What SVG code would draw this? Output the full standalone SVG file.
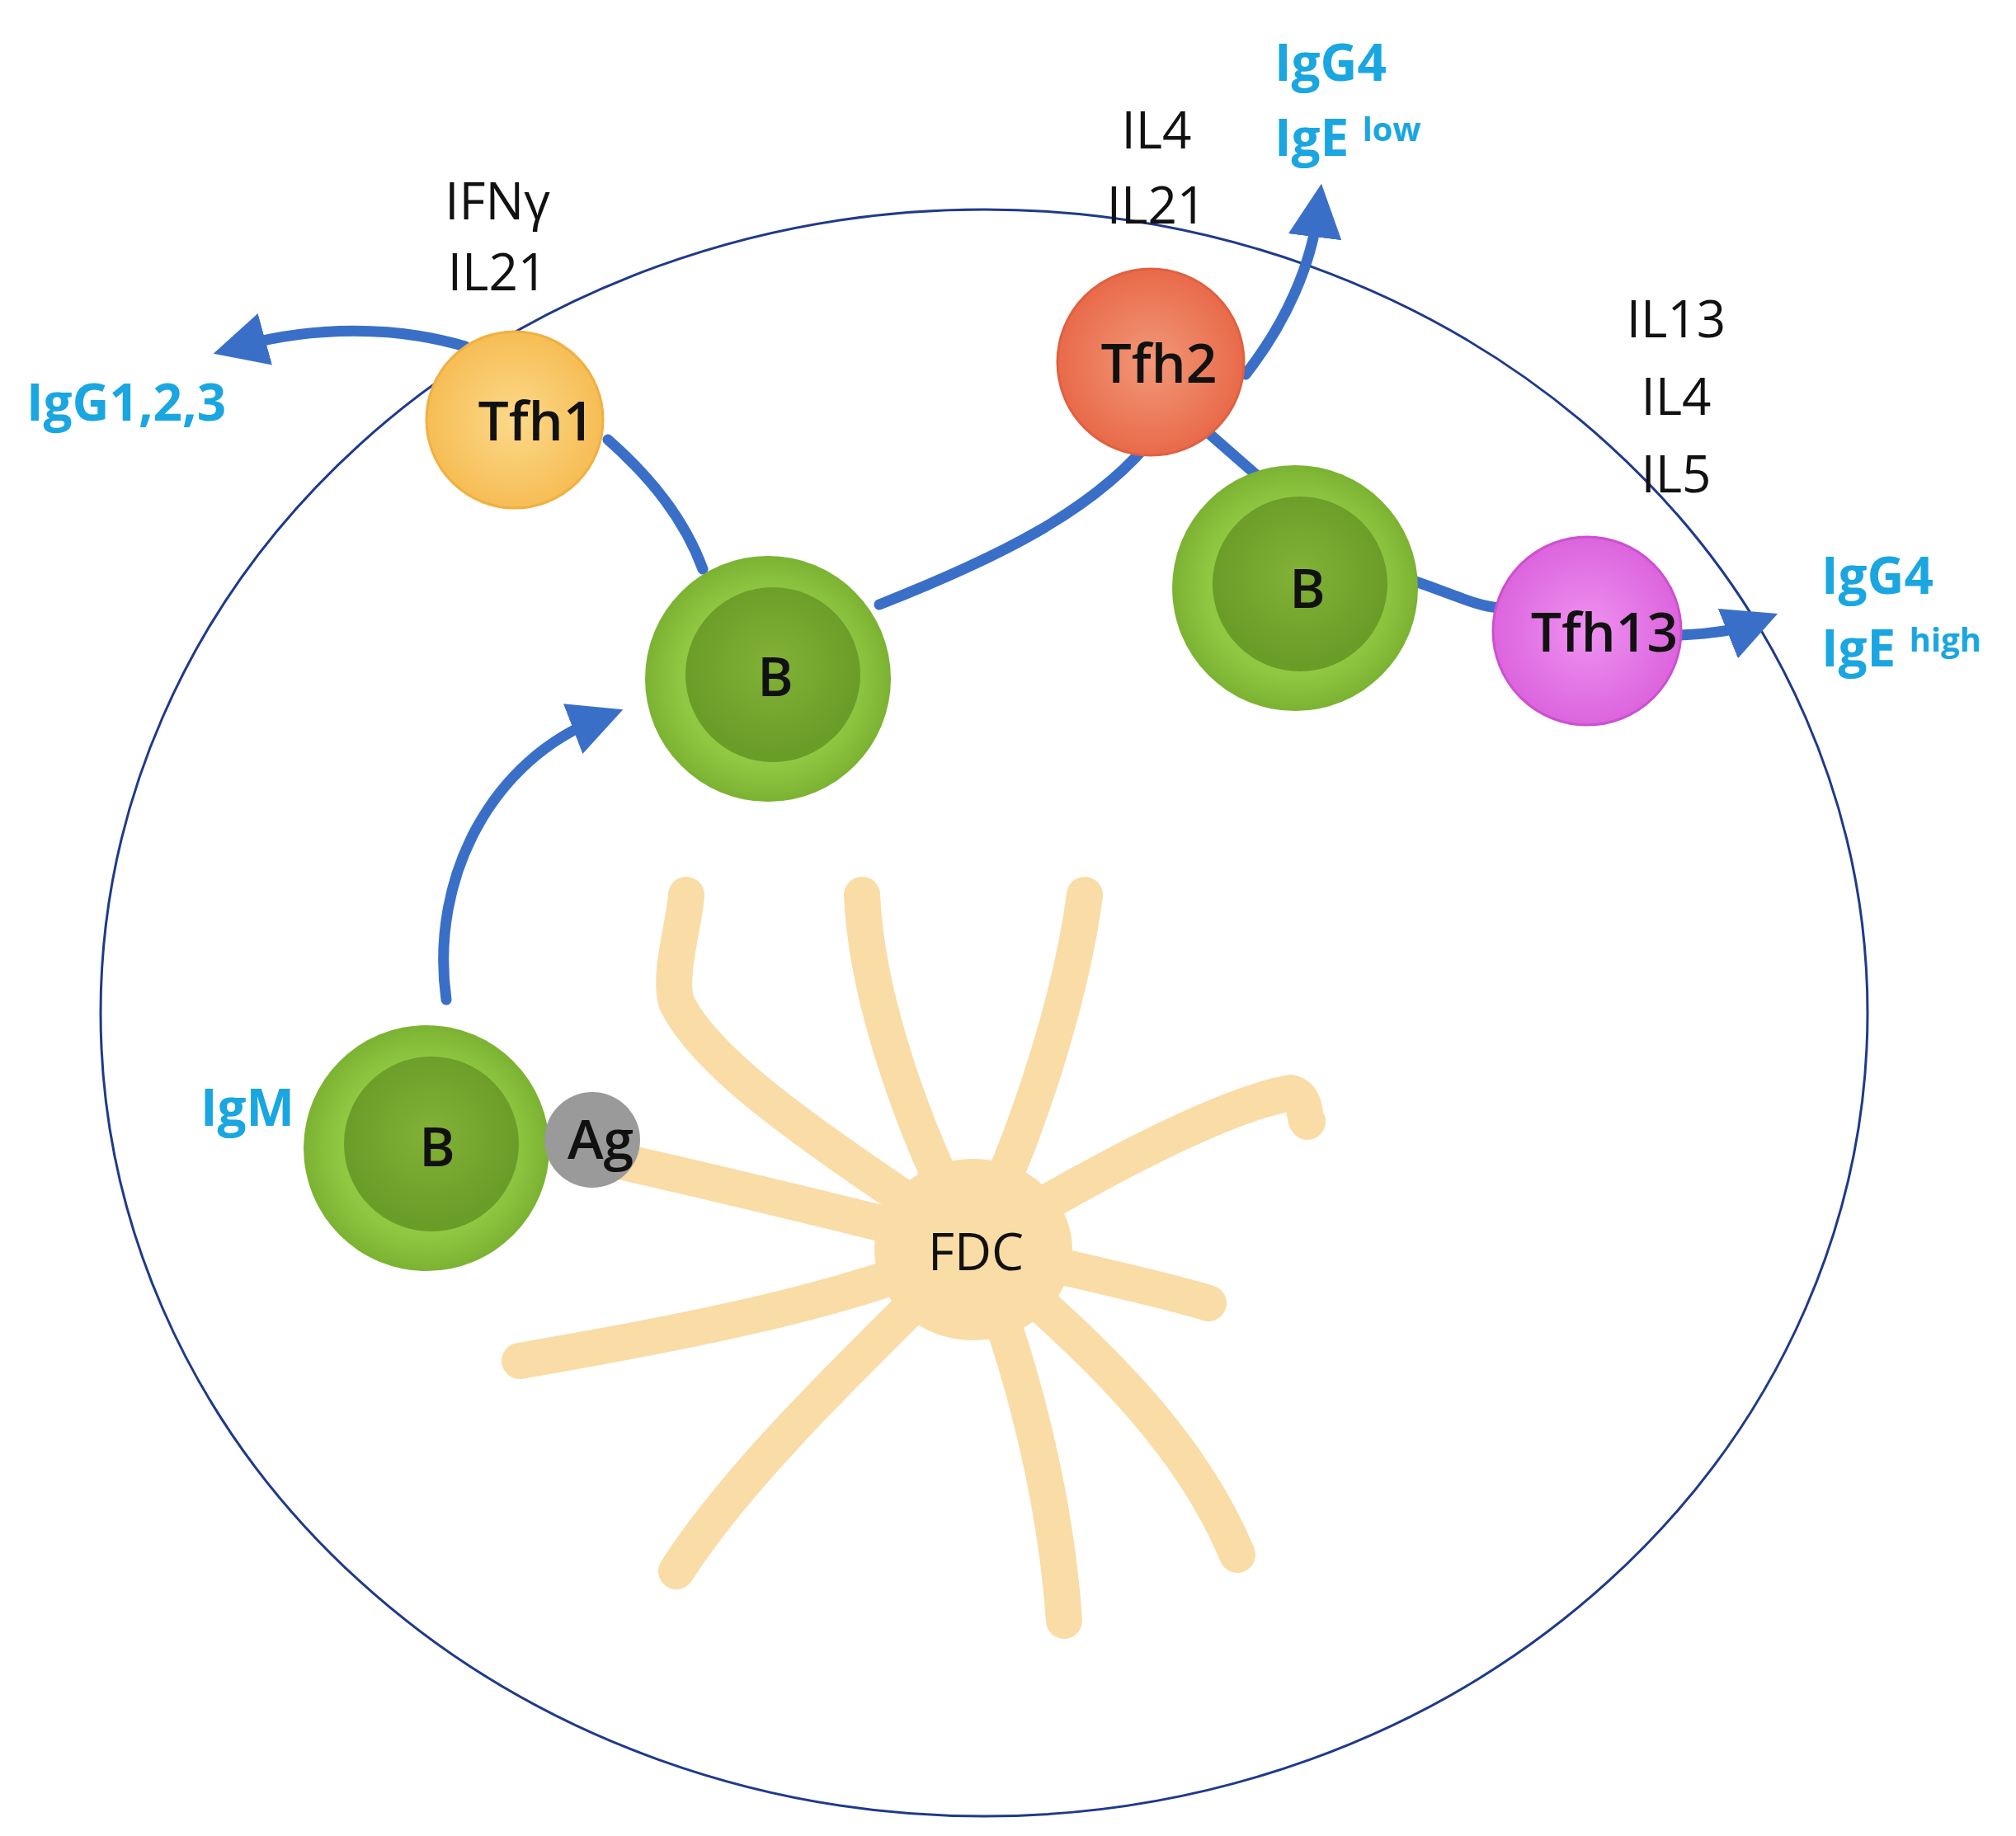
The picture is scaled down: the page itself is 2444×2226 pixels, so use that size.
<svg xmlns="http://www.w3.org/2000/svg" width="2444" height="2226" viewBox="0 0 2444 2226">
<style>
.lbl{font-family:"Open Sans","Liberation Sans",sans-serif;font-size:62px;fill:#111;text-anchor:middle}
.cell{font-family:"Open Sans","Liberation Sans",sans-serif;font-size:66px;font-weight:600;fill:#111;text-anchor:middle}
.ig{font-family:"Open Sans","Liberation Sans",sans-serif;font-size:62px;font-weight:bold;fill:#1aa6e0}
.sup{font-size:40px}
.con{fill:none;stroke:#3a6fc8;stroke-width:13;stroke-linecap:round}
.arm{fill:none;stroke:#f9dca6;stroke-width:44;stroke-linecap:round;stroke-linejoin:round}
</style>
<defs>
<radialGradient id="gB" cx="0.5" cy="0.5" r="0.5"><stop offset="0.7" stop-color="#90c842"/><stop offset="1" stop-color="#7cb232"/></radialGradient>
<radialGradient id="gBi" cx="0.5" cy="0.45" r="0.5"><stop offset="0" stop-color="#82b236"/><stop offset="1" stop-color="#6a9c28"/></radialGradient>
<radialGradient id="g1" cx="0.5" cy="0.5" r="0.5"><stop offset="0" stop-color="#fcd98a"/><stop offset="1" stop-color="#f6bd55"/></radialGradient>
<radialGradient id="g2" cx="0.5" cy="0.5" r="0.5"><stop offset="0" stop-color="#f29878"/><stop offset="1" stop-color="#e86a4a"/></radialGradient>
<radialGradient id="g13" cx="0.5" cy="0.5" r="0.5"><stop offset="0" stop-color="#ee92f0"/><stop offset="1" stop-color="#dc64de"/></radialGradient>
<marker id="ah" viewBox="0 0 10 10" refX="5" refY="5" markerWidth="5" markerHeight="5" orient="auto" markerUnits="strokeWidth"><path d="M0,0 L10,5 L0,10 z" fill="#3a6fc8"/></marker>
</defs>
<rect width="2444" height="2226" fill="#fff"/>
<ellipse cx="1193" cy="1228" rx="1071" ry="974" fill="none" stroke="#1f3a8a" stroke-width="3"/>

<g id="FDC">
<path class="arm" d="M1180,1510 C1050,1480 900,1440 715,1400"/>
<path class="arm" d="M1180,1510 C1020,1400 860,1300 820,1215 C810,1180 830,1120 832,1085"/>
<path class="arm" d="M1180,1510 C1100,1360 1050,1200 1045,1085"/>
<path class="arm" d="M1180,1510 C1250,1370 1300,1200 1315,1085"/>
<path class="arm" d="M1180,1510 C1330,1420 1480,1340 1565,1325 C1585,1330 1580,1355 1585,1360"/>
<path class="arm" d="M1180,1510 C1300,1540 1400,1560 1465,1580"/>
<path class="arm" d="M1180,1510 C1320,1630 1440,1740 1500,1885"/>
<path class="arm" d="M1180,1510 C1240,1650 1280,1820 1290,1965"/>
<path class="arm" d="M1180,1510 C1050,1640 900,1780 820,1905"/>
<path class="arm" d="M1180,1510 C1030,1580 800,1620 630,1650"/>
<ellipse cx="1180" cy="1515" rx="120" ry="110" fill="#f9dca6"/>
<text class="lbl" x="1183" y="1540">FDC</text>
</g>

<g id="connectors">
<path class="con" d="M564,420 C480,395 380,395 290,420" marker-end="url(#ah)"/>
<path class="con" d="M737,533 C790,580 830,630 852,690"/>
<path class="con" d="M1066,733 C1200,680 1330,620 1402,525"/>
<path class="con" d="M1510,454 C1560,390 1590,320 1598,255" marker-end="url(#ah)"/>
<path class="con" d="M1465,525 L1528,580"/>
<path class="con" d="M1716,705 C1760,720 1790,735 1818,737"/>
<path class="con" d="M2038,770 C2080,768 2110,762 2125,756" marker-end="url(#ah)"/>
<path class="con" d="M541,1212 C520,1060 600,920 725,872" marker-end="url(#ah)"/>
</g>

<g id="Tfh1"><circle cx="624" cy="509" r="107" fill="url(#g1)" stroke="#f0b040" stroke-width="3"/><text class="cell" x="650" y="534">Tfh1</text></g>
<g id="Tfh2"><circle cx="1395" cy="439" r="113" fill="url(#g2)" stroke="#e06040" stroke-width="3"/><text class="cell" x="1405" y="464">Tfh2</text></g>
<g id="Bmid"><circle cx="931" cy="823" r="149" fill="url(#gB)"/><circle cx="937" cy="818" r="106" fill="url(#gBi)"/><text class="cell" x="940" y="844">B</text></g>
<g id="Bright"><circle cx="1570" cy="713" r="149" fill="url(#gB)"/><circle cx="1576" cy="708" r="106" fill="url(#gBi)"/><text class="cell" x="1585" y="737">B</text></g>
<g id="Tfh13"><circle cx="1924" cy="765" r="114" fill="url(#g13)" stroke="#cc50d0" stroke-width="3"/><text class="cell" x="1945" y="790">Tfh13</text></g>
<g id="Bbottom"><circle cx="517" cy="1392" r="149" fill="url(#gB)"/><circle cx="523" cy="1387" r="106" fill="url(#gBi)"/><text class="cell" x="530" y="1414">B</text></g>
<g id="Ag"><circle cx="718" cy="1382" r="58" fill="#9a9a9a"/><text class="cell" x="728" y="1405">Ag</text></g>

<g id="labels">
<text class="lbl" x="603" y="266">IFNγ</text>
<text class="lbl" x="603" y="352">IL21</text>
<text class="lbl" x="1402" y="180">IL4</text>
<text class="lbl" x="1402" y="271">IL21</text>
<text class="lbl" x="2032" y="409">IL13</text>
<text class="lbl" x="2032" y="503">IL4</text>
<text class="lbl" x="2032" y="597">IL5</text>
<text class="ig" x="32" y="510">IgG1,2,3</text>
<text class="ig" x="1545" y="98">IgG4</text>
<text class="ig" x="1545" y="189">IgE <tspan class="sup" dy="-18">low</tspan></text>
<text class="ig" x="2208" y="720">IgG4</text>
<text class="ig" x="2208" y="808">IgE <tspan class="sup" dy="-18">high</tspan></text>
<text class="ig" x="243" y="1365">IgM</text>
</g>
</svg>
